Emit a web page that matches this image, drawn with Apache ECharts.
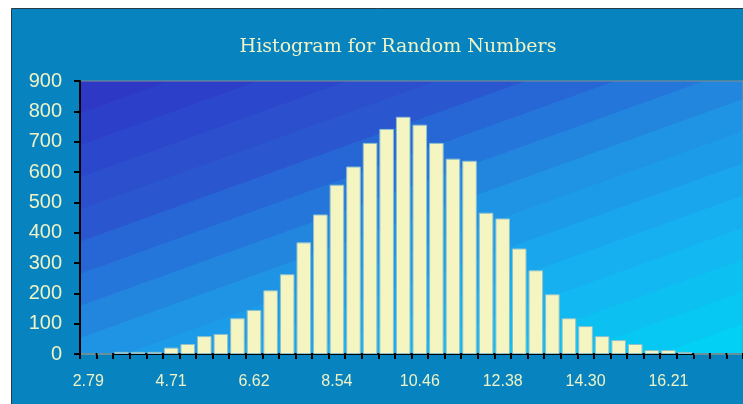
<!DOCTYPE html>
<html>
<head>
<meta charset="utf-8">
<script src="https://cdn.jsdelivr.net/npm/echarts@6/dist/echarts.min.js"></script>
<style>
  html, body { margin: 0; padding: 0; background: #ffffff; }
  #chart { width: 743px; height: 404px; }
</style>
</head>
<body>
<div id="chart"></div>
<script>
// Bin start values (bin width ~0.383)
const binLabels = ['2.79','3.17','3.56','3.94','4.32','4.71','5.09','5.47','5.86','6.24',
                   '6.62','7.01','7.39','7.77','8.16','8.54','8.92','9.31','9.69','10.07',
                   '10.46','10.84','11.22','11.61','11.99','12.38','12.76','13.14','13.53','13.91',
                   '14.30','14.68','15.06','15.44','15.83','16.21','16.59','16.98','17.36','17.74'];
// Frequency per bin
const frequencies = [0, 0, 7, 7, 7, 21, 33, 59, 66, 118,
                     145, 210, 263, 368, 460, 558, 618, 696, 742, 782,
                     756, 696, 644, 637, 466, 447, 348, 276, 197, 118,
                     92, 59, 46, 33, 13, 13, 7, 0, 0, 0];
const yTicks = [0, 100, 200, 300, 400, 500, 600, 700, 800, 900];

const labelColor = '#eef2c4';

// Banded diagonal fill for the plot area: dark blue at top-left to cyan at bottom-right
const anchors = [
  [0.00, [45, 52, 196]],
  [0.28, [42, 86, 208]],
  [0.50, [33, 142, 226]],
  [0.72, [22, 176, 240]],
  [1.00, [0, 212, 244]]
];
function colorAt(t) {
  for (let i = 1; i < anchors.length; i++) {
    if (t <= anchors[i][0]) {
      const a = anchors[i - 1], b = anchors[i];
      const f = (t - a[0]) / (b[0] - a[0]);
      const c = a[1].map((v, k) => Math.round(v + (b[1][k] - v) * f));
      return 'rgb(' + c.join(',') + ')';
    }
  }
  return 'rgb(' + anchors[anchors.length - 1][1].join(',') + ')';
}
const bandCount = 16;
const bandStops = [];
for (let k = 0; k < bandCount; k++) {
  const col = colorAt((k + 0.5) / bandCount);
  bandStops.push({ offset: k / bandCount, color: col });
  bandStops.push({ offset: (k + 1) / bandCount - 0.0001, color: col });
}
const plotFill = new echarts.graphic.LinearGradient(80, 81, 244, 536, bandStops, true);

const chart = echarts.init(document.getElementById('chart'), null, { renderer: 'canvas' });

chart.setOption({
  animation: false,
  backgroundColor: '#ffffff',
  graphic: [{
    type: 'rect',
    z: -10,
    silent: true,
    shape: { x: 11.5, y: 8.5, width: 800, height: 500 },
    style: { fill: '#0784c0', stroke: '#2a3a44', lineWidth: 1 }
  }],
  title: {
    text: 'Histogram for Random Numbers',
    left: 393,
    top: 33,
    textAlign: 'center',
    textStyle: {
      fontFamily: 'DejaVu Serif',
      fontWeight: 'normal',
      fontSize: 19,
      color: labelColor
    }
  },
  grid: {
    left: 80,
    top: 81,
    bottom: 50,
    right: -7,
    show: true,
    borderColor: '#8a8a8a',
    borderWidth: 1,
    backgroundColor: plotFill
  },
  xAxis: {
    type: 'category',
    data: binLabels,
    boundaryGap: true,
    axisLine: { lineStyle: { color: '#000000', width: 2 } },
    axisTick: { show: true, interval: 0, length: 5, lineStyle: { color: '#000000', width: 2 } },
    axisLabel: {
      interval: 4,
      margin: 20,
      color: labelColor,
      fontFamily: 'Liberation Sans',
      fontSize: 16
    },
    splitLine: { show: false }
  },
  yAxis: {
    type: 'value',
    min: yTicks[0],
    max: yTicks[yTicks.length - 1],
    interval: 100,
    axisLine: { show: true, lineStyle: { color: '#000000', width: 2 } },
    axisTick: { show: true, length: 6, lineStyle: { color: '#000000', width: 2 } },
    axisLabel: {
      margin: 18,
      color: labelColor,
      fontFamily: 'Liberation Sans',
      fontSize: 20
    },
    splitLine: { show: false }
  },
  series: [{
    type: 'bar',
    data: frequencies,
    barCategoryGap: '12%',
    itemStyle: {
      color: '#f4f5c0',
      borderColor: '#8cc0cc',
      borderWidth: 1
    }
  }]
});
</script>
</body>
</html>
